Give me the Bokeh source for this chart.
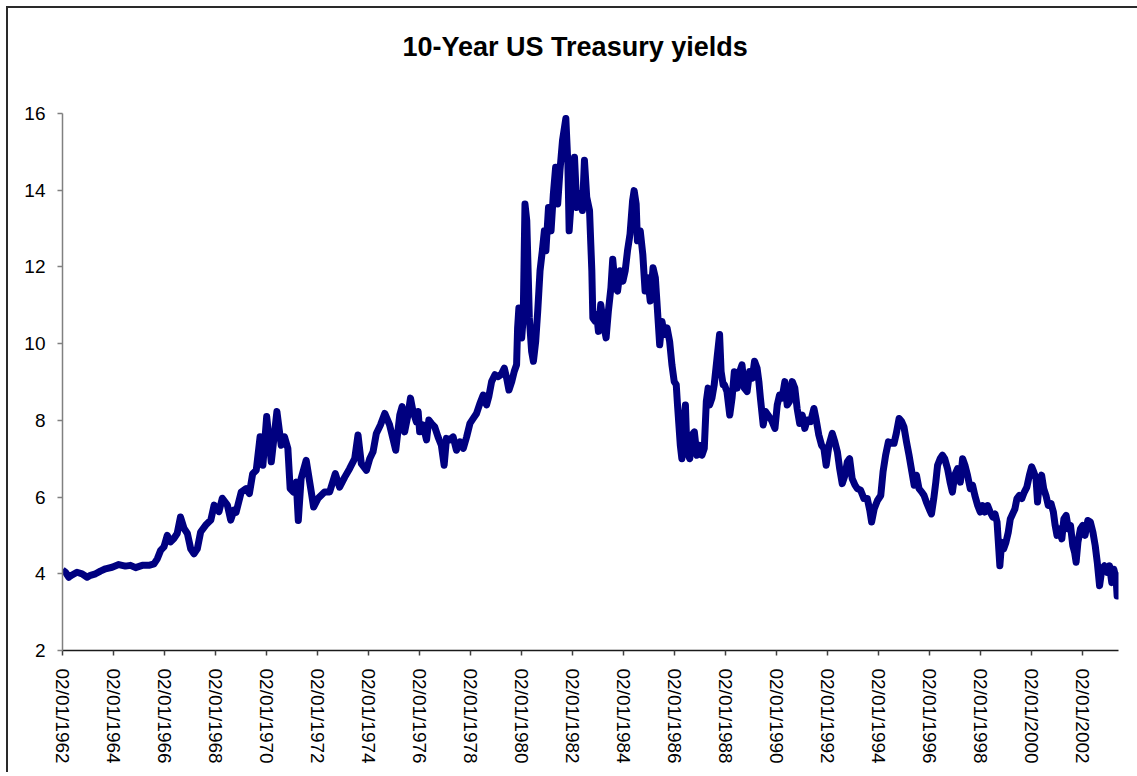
from datetime import datetime, timedelta
from bokeh.plotting import figure
from bokeh.models import Range1d, FixedTicker, DatetimeTickFormatter, ColumnDataSource, Title
from bokeh.embed import file_html
from bokeh.resources import INLINE

title_text = "10-Year US Treasury yields"
y_ticks = [2, 4, 6, 8, 10, 12, 14, 16]
x_tick_years = list(range(1962, 2003, 2))

# decimal years and 10-year yields (%)
years = [
    1962.003, 1962.12, 1962.25, 1962.38, 1962.57, 1962.77, 1962.97, 1963.10, 1963.30, 1963.49,
    1963.69, 1963.95, 1964.21, 1964.47, 1964.67, 1964.87, 1965.13, 1965.39, 1965.59, 1965.72,
    1965.85, 1965.98, 1966.11, 1966.24, 1966.37, 1966.50, 1966.63, 1966.77, 1966.90, 1967.03,
    1967.16, 1967.29, 1967.42, 1967.62, 1967.82, 1967.95, 1968.14, 1968.27, 1968.47, 1968.60,
    1968.73, 1968.81, 1969.01, 1969.20, 1969.33, 1969.46, 1969.60, 1969.75, 1969.86, 1970.01,
    1970.19, 1970.41, 1970.58, 1970.71, 1970.84, 1970.93, 1971.06, 1971.17, 1971.25, 1971.36,
    1971.56, 1971.76, 1971.85, 1972.02, 1972.28, 1972.48, 1972.70, 1972.87, 1973.07, 1973.26,
    1973.46, 1973.59, 1973.72, 1973.92, 1974.05, 1974.18, 1974.31, 1974.47, 1974.64, 1974.83,
    1975.07, 1975.23, 1975.32, 1975.42, 1975.55, 1975.65, 1975.75, 1975.88, 1975.95, 1976.01,
    1976.14, 1976.28, 1976.37, 1976.47, 1976.60, 1976.73, 1976.86, 1976.97, 1977.06, 1977.19,
    1977.32, 1977.45, 1977.59, 1977.72, 1977.85, 1977.98, 1978.11, 1978.24, 1978.37, 1978.50,
    1978.63, 1978.72, 1978.83, 1978.96, 1979.09, 1979.20, 1979.33, 1979.42, 1979.51, 1979.62,
    1979.72, 1979.81, 1979.85, 1979.90, 1979.96, 1980.01, 1980.07, 1980.14, 1980.21, 1980.27,
    1980.31, 1980.40, 1980.47, 1980.56, 1980.64, 1980.73, 1980.82, 1980.90, 1980.96, 1981.06,
    1981.16, 1981.25, 1981.34, 1981.42, 1981.51, 1981.61, 1981.74, 1981.82, 1981.87, 1981.97,
    1982.08, 1982.17, 1982.30, 1982.39, 1982.47, 1982.56, 1982.67, 1982.72, 1982.76, 1982.80,
    1982.89, 1982.95, 1983.02, 1983.11, 1983.22, 1983.32, 1983.41, 1983.51, 1983.58, 1983.68,
    1983.77, 1983.87, 1983.98, 1984.07, 1984.16, 1984.26, 1984.36, 1984.42, 1984.50, 1984.55,
    1984.66, 1984.76, 1984.85, 1984.95, 1985.05, 1985.16, 1985.25, 1985.31, 1985.42, 1985.51,
    1985.60, 1985.71, 1985.81, 1985.90, 1985.99, 1986.07, 1986.12, 1986.23, 1986.29, 1986.36,
    1986.43, 1986.49, 1986.60, 1986.69, 1986.78, 1986.88, 1986.99, 1987.08, 1987.17, 1987.25,
    1987.32, 1987.38, 1987.47, 1987.56, 1987.67, 1987.77, 1987.83, 1987.91, 1987.96, 1988.06,
    1988.17, 1988.26, 1988.35, 1988.46, 1988.56, 1988.65, 1988.74, 1988.85, 1988.95, 1989.05,
    1989.14, 1989.24, 1989.31, 1989.37, 1989.48, 1989.57, 1989.80, 1989.94, 1990.03, 1990.12,
    1990.22, 1990.33, 1990.42, 1990.51, 1990.62, 1990.72, 1990.81, 1990.91, 1991.01, 1991.11,
    1991.21, 1991.34, 1991.47, 1991.56, 1991.66, 1991.77, 1991.86, 1991.95, 1992.06, 1992.19,
    1992.29, 1992.39, 1992.48, 1992.58, 1992.69, 1992.78, 1992.87, 1992.97, 1993.08, 1993.17,
    1993.30, 1993.43, 1993.56, 1993.66, 1993.73, 1993.83, 1993.96, 1994.09, 1994.18, 1994.28,
    1994.39, 1994.49, 1994.61, 1994.70, 1994.81, 1994.91, 1995.00, 1995.10, 1995.20, 1995.31,
    1995.40, 1995.49, 1995.59, 1995.70, 1995.79, 1995.88, 1995.99, 1996.08, 1996.17, 1996.25,
    1996.32, 1996.42, 1996.51, 1996.60, 1996.71, 1996.81, 1996.90, 1996.99, 1997.10, 1997.21,
    1997.30, 1997.39, 1997.49, 1997.60, 1997.69, 1997.78, 1997.89, 1997.99, 1998.08, 1998.17,
    1998.28, 1998.38, 1998.48, 1998.57, 1998.65, 1998.71, 1998.76, 1998.83, 1998.91, 1999.00,
    1999.09, 1999.17, 1999.26, 1999.35, 1999.43, 1999.52, 1999.62, 1999.72, 1999.82, 1999.92,
    2000.01, 2000.09, 2000.18, 2000.24, 2000.31, 2000.40, 2000.48, 2000.57, 2000.66, 2000.77,
    2000.86, 2000.93, 2001.00, 2001.10, 2001.19, 2001.27, 2001.36, 2001.45, 2001.53, 2001.62,
    2001.69, 2001.75, 2001.82, 2001.92, 2002.01, 2002.10, 2002.21, 2002.31, 2002.41, 2002.50,
    2002.58, 2002.67, 2002.76, 2002.86, 2002.97, 2003.06, 2003.15, 2003.23, 2003.32, 2003.36,
    2003.40, 2003.42,
]
yields = [
    4.10, 4.04, 3.91, 3.97, 4.04, 4.00, 3.91, 3.96, 4.00, 4.07,
    4.13, 4.17, 4.24, 4.20, 4.22, 4.16, 4.22, 4.22, 4.26, 4.39,
    4.61, 4.70, 5.00, 4.83, 4.92, 5.05, 5.48, 5.18, 5.05, 4.65,
    4.52, 4.65, 5.09, 5.27, 5.40, 5.79, 5.62, 5.97, 5.79, 5.40,
    5.66, 5.60, 6.13, 6.22, 6.09, 6.61, 6.70, 7.57, 6.83, 8.10,
    6.92, 8.23, 7.35, 7.57, 7.27, 6.22, 6.13, 6.39, 5.39, 6.48,
    6.96, 6.13, 5.74, 5.96, 6.13, 6.13, 6.61, 6.26, 6.52, 6.74,
    7.00, 7.62, 6.87, 6.70, 7.00, 7.18, 7.66, 7.88, 8.18, 7.88,
    7.22, 8.14, 8.36, 7.70, 8.14, 8.58, 8.23, 7.96, 8.23, 7.70,
    7.88, 7.49, 8.01, 7.92, 7.83, 7.57, 7.35, 6.83, 7.53, 7.49,
    7.57, 7.22, 7.44, 7.27, 7.57, 7.92, 8.05, 8.18, 8.44, 8.66,
    8.40, 8.62, 9.01, 9.19, 9.14, 9.19, 9.36, 9.10, 8.79, 9.01,
    9.28, 9.45, 10.41, 10.93, 10.67, 10.15, 10.67, 13.64, 13.21, 11.72,
    10.67, 9.80, 9.54, 10.06, 10.85, 11.90, 12.42, 12.94, 12.42, 13.55,
    12.94, 13.90, 14.60, 13.64, 14.52, 15.30, 15.87, 14.69, 12.94, 13.90,
    14.86, 13.55, 13.90, 13.47, 14.78, 13.82, 13.47, 12.59, 11.90, 10.67,
    10.58, 10.76, 10.32, 11.02, 10.50, 10.15, 10.85, 11.46, 12.20, 11.46,
    11.37, 11.90, 11.63, 11.90, 12.42, 12.86, 13.73, 13.99, 13.64, 12.68,
    12.94, 12.33, 11.37, 11.72, 11.11, 11.98, 11.72, 11.11, 9.97, 10.58,
    10.24, 10.41, 10.06, 9.45, 9.01, 8.93, 8.40, 7.35, 7.00, 7.88,
    8.40, 7.18, 7.00, 7.62, 7.70, 7.09, 7.35, 7.09, 7.27, 8.49,
    8.84, 8.40, 8.58, 8.93, 9.62, 10.24, 9.27, 8.93, 8.93, 8.75,
    8.14, 8.58, 9.27, 8.84, 9.27, 9.45, 8.84, 8.75, 9.27, 9.10,
    9.54, 9.36, 9.01, 8.58, 7.88, 8.23, 8.01, 7.79, 8.40, 8.66,
    8.58, 9.01, 8.40, 8.49, 9.01, 8.84, 8.31, 7.92, 8.14, 7.79,
    8.01, 7.97, 8.31, 8.01, 7.62, 7.35, 7.27, 6.83, 7.35, 7.66,
    7.44, 7.18, 6.74, 6.35, 6.57, 6.92, 7.00, 6.48, 6.31, 6.22,
    6.18, 5.96, 5.96, 5.65, 5.35, 5.69, 5.91, 6.04, 6.66, 7.09,
    7.44, 7.40, 7.40, 7.66, 8.05, 7.97, 7.83, 7.44, 7.09, 6.66,
    6.31, 6.57, 6.22, 6.13, 6.04, 5.87, 5.69, 5.56, 5.96, 6.39,
    6.83, 7.00, 7.09, 7.00, 6.74, 6.39, 6.13, 6.57, 6.74, 6.39,
    7.00, 6.83, 6.57, 6.22, 6.31, 6.04, 5.78, 5.61, 5.78, 5.61,
    5.78, 5.61, 5.48, 5.56, 5.35, 4.73, 4.21, 4.82, 4.65, 4.82,
    5.08, 5.43, 5.56, 5.69, 5.96, 6.04, 5.96, 6.13, 6.26, 6.57,
    6.79, 6.66, 6.48, 5.87, 6.39, 6.57, 6.22, 6.04, 5.78, 5.83,
    5.61, 5.26, 5.00, 5.17, 4.91, 5.43, 5.52, 5.17, 5.26, 4.73,
    4.56, 4.30, 4.82, 5.17, 5.26, 5.00, 5.39, 5.35, 5.08, 4.73,
    4.30, 3.69, 4.12, 4.21, 4.04, 4.21, 3.77, 4.12, 3.86, 3.42,
    3.95, 3.35,
]


def dec_to_dt(y):
    base = datetime(int(y), 1, 1)
    return base + timedelta(days=(y - int(y)) * 365.25)


source = ColumnDataSource(data=dict(date=[dec_to_dt(y) for y in years], value=yields))

FONT = "Liberation Sans"

p = figure(
    width=1129, height=764,
    x_axis_type="datetime",
    x_range=Range1d(datetime(1962, 1, 2), datetime(2003, 6, 1)),
    y_range=Range1d(2, 16),
    output_backend="svg", toolbar_location=None,
    min_border_left=54, min_border_right=21, min_border_top=105, min_border_bottom=124,
    background_fill_color="white", border_fill_color="white",
    outline_line_color=None,
)
p.styles = {"margin-left": "6px", "margin-top": "6px",
            "border-top": "2px solid #2a2a2a", "border-left": "2px solid #2a2a2a",
            "border-right": "none", "border-bottom": "none",
            "box-sizing": "content-box", "overflow": "hidden"}

# spacer (closest to the frame) that lifts the real title
p.add_layout(Title(text=" ", text_font_size="31px"), "above")
p.add_layout(Title(text=title_text, text_font=FONT, text_font_style="bold",
                   text_font_size="27px", text_color="black",
                   align="left", offset=340), "above")

p.xgrid.visible = False
p.ygrid.visible = False

p.line("date", "value", source=source, line_color="#000080", line_width=7, line_join="round")

xa = p.xaxis[0]
xa.ticker = FixedTicker(ticks=[datetime(y, 1, 2).timestamp() * 1000 for y in x_tick_years])
fmt = "%d/%m/%Y"
xa.formatter = DatetimeTickFormatter(days=fmt, months=fmt, years=fmt, hours=fmt,
                                     minutes=fmt, seconds=fmt, milliseconds=fmt,
                                     microseconds=fmt, hourmin=fmt, minsec=fmt)
xa.major_label_orientation = "vertical"
xa.major_label_text_font = FONT
xa.major_label_text_font_size = "19px"
xa.major_label_text_color = "black"
xa.major_label_standoff = 13
xa.axis_line_color = "#1a1a1a"
xa.axis_line_width = 1.5
xa.major_tick_line_color = "#404040"
xa.major_tick_line_width = 1.5
xa.major_tick_out = 5
xa.major_tick_in = 0
xa.minor_tick_line_color = None

ya = p.yaxis[0]
ya.ticker = FixedTicker(ticks=y_ticks)
ya.major_label_text_font = FONT
ya.major_label_text_font_size = "19px"
ya.major_label_text_color = "black"
ya.major_label_standoff = 12
ya.axis_line_color = "#808080"
ya.axis_line_width = 1.5
ya.major_tick_line_color = "#808080"
ya.major_tick_line_width = 1.5
ya.major_tick_out = 5
ya.major_tick_in = 0
ya.minor_tick_line_color = None

open("out.html", "w").write(file_html(p, INLINE))
